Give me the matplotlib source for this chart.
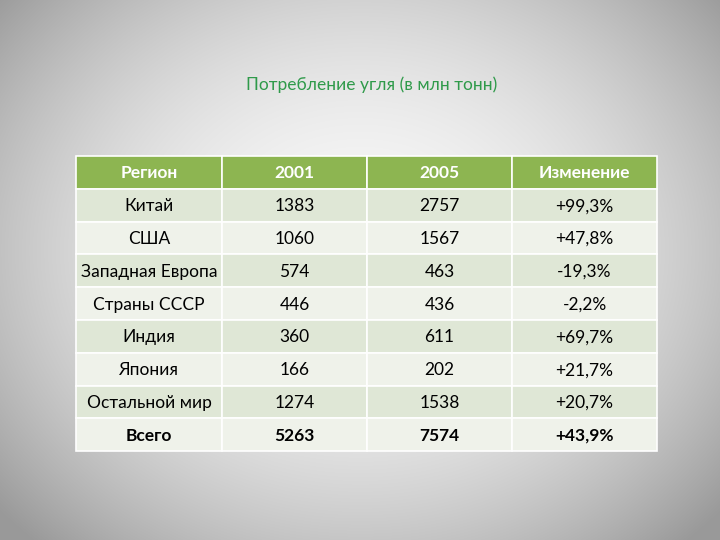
import matplotlib
matplotlib.use("Agg")
import matplotlib.pyplot as plt
import numpy as np
from matplotlib.patches import Rectangle

header = ["Регион", "2001", "2005", "Изменение"]
regions = ["Китай", "США", "Западная Европа", "Страны СССР", "Индия", "Япония", "Остальной мир", "Всего"]
v2001 = ["1383", "1060", "574", "446", "360", "166", "1274", "5263"]
v2005 = ["2757", "1567", "463", "436", "611", "202", "1538", "7574"]
change = ["+99,3%", "+47,8%", "-19,3%", "-2,2%", "+69,7%", "+21,7%", "+20,7%", "+43,9%"]

plt.rcParams['font.family'] = ['Lato', 'DejaVu Sans']
W, H = 720, 540
fig = plt.figure(figsize=(7.2, 5.4), dpi=100)
ax = fig.add_axes([0, 0, 1, 1])
ax.set_xlim(0, W); ax.set_ylim(H, 0); ax.axis('off')

# radial gradient background
yy, xx = np.mgrid[0:H, 0:W]
r = np.sqrt(((xx - 360) / 430) ** 2 + ((yy - 250) / 360) ** 2)
g = np.clip(0.97 - 0.30 * r ** 2, 0.6, 1)
ax.imshow(np.dstack([g, g, g]), extent=[0, W, H, 0], zorder=0)

ax.text(372, 85, "Потребление угля (в млн тонн)", color="#2f9a4a", fontsize=12.5,
        ha="center", va="center")

xs = [76, 222, 367, 512, 657]
y0, rh = 156, 32.8
rows = [header] + [list(t) for t in zip(regions, v2001, v2005, change)]
for i, row in enumerate(rows):
    y = y0 + i * rh
    if i == 0:
        fc = "#8db551"
    elif i % 2 == 1:
        fc = "#dfe7d6"
    else:
        fc = "#eff2ea"
    for j in range(4):
        ax.add_patch(Rectangle((xs[j], y), xs[j + 1] - xs[j], rh, facecolor=fc,
                               edgecolor="white", linewidth=1.2, zorder=1))
        ax.text((xs[j] + xs[j + 1]) / 2, y + rh / 2 + 1, row[j],
                color="white" if i == 0 else "black",
                fontsize=12.5, ha="center", va="center",
                fontweight="bold" if (i == 0 or i == len(rows) - 1) else "normal", zorder=2)

fig.savefig("out.png", dpi=100)
